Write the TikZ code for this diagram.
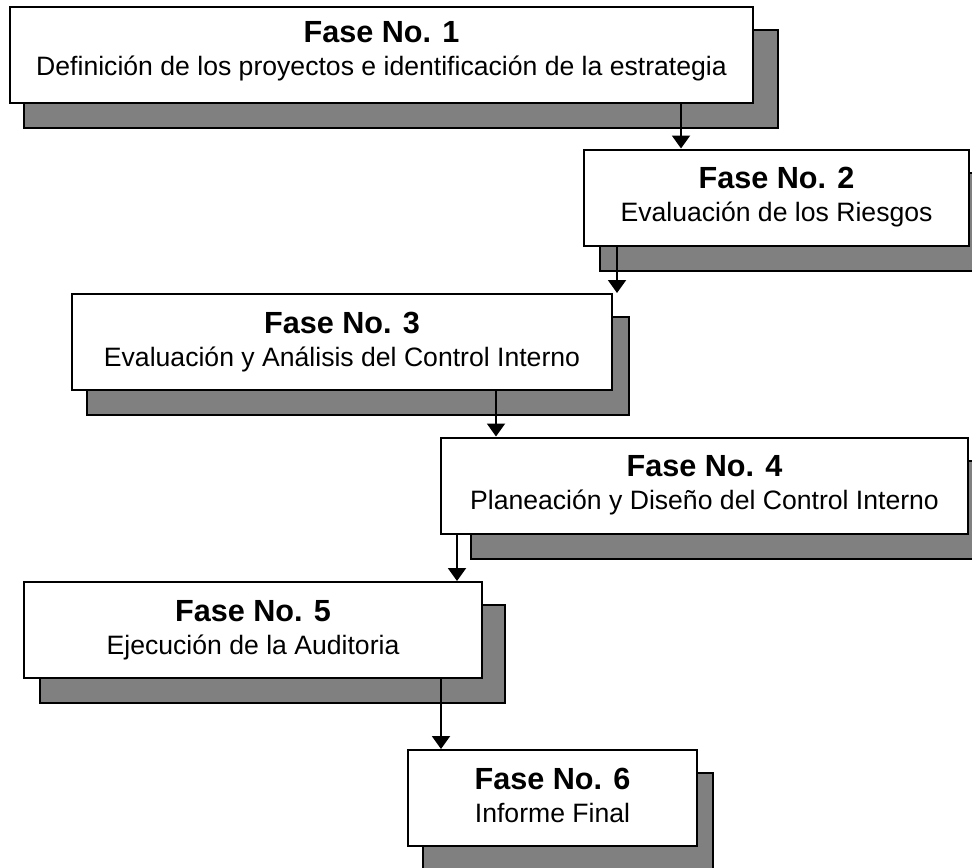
\documentclass[tikz,border=0pt]{standalone}
\usepackage{fontspec}
\setmainfont{Liberation Sans}
\usetikzlibrary{arrows.meta,calc,backgrounds}

\tikzset{
  phase/.style={draw, line width=1pt, fill=white, minimum height=48pt,
    inner sep=2pt, align=center, font=\fontsize{13.3}{16.5}\selectfont},
  shadowbox/.style={draw, line width=1pt, fill=black!50},
  flow/.style={line width=1pt, -{Triangle[width=9pt,length=6.5pt]}}
}
\newcommand{\fase}[3][3pt]{{\fontsize{15.3}{16.5}\selectfont\bfseries Fase No. #2}\\#3\rule[-#1]{0pt}{0pt}}

\begin{document}
\begin{tikzpicture}[x=0.5pt,y=-0.5pt]
  \useasboundingbox (0,0) rectangle (972,867);
  % the six phases
  \node[phase, minimum width=371.5pt] (f1) at (381.5,55)
    {\fase[7pt]{1}{Definición de los proyectos e identificación de la estrategia}};
  \node[phase, minimum width=192.5pt] (f2) at (776.5,197.5)
    {\fase{2}{Evaluación de los Riesgos}};
  \node[phase, minimum width=270pt] (f3) at (342,342)
    {\fase{3}{Evaluación y Análisis del Control Interno}};
  \node[phase, minimum width=263.5pt] (f4) at (704.5,485.5)
    {\fase{4}{Planeación y Diseño del Control Interno}};
  \node[phase, minimum width=229pt] (f5) at (253,630)
    {\fase{5}{Ejecución de la Auditoria}};
  \node[phase, minimum width=144.5pt] (f6) at (552.5,798)
    {\fase{6}{Informe Final}};
  % shadows behind the boxes
  \begin{scope}[on background layer]
    \clip (0,0) rectangle (972,867);
    \foreach \n/\l/\r in {f1/15/24,f2/17/24,f3/16/16,f4/31/24,f5/17/22,f6/16/15}
      \draw[shadowbox] ($(\n.north west)+(\l,24)$) rectangle ($(\n.south east)+(\r,24)$);
  \end{scope}
  % arrows
  \foreach \a/\b/\x in {f1/f2/681,f2/f3/617,f3/f4/496,f4/f5/457,f5/f6/441}
    {\coordinate (c) at (\x,0); \draw[flow] (\a.south -| c) -- (\b.north -| c);}
\end{tikzpicture}
\end{document}
